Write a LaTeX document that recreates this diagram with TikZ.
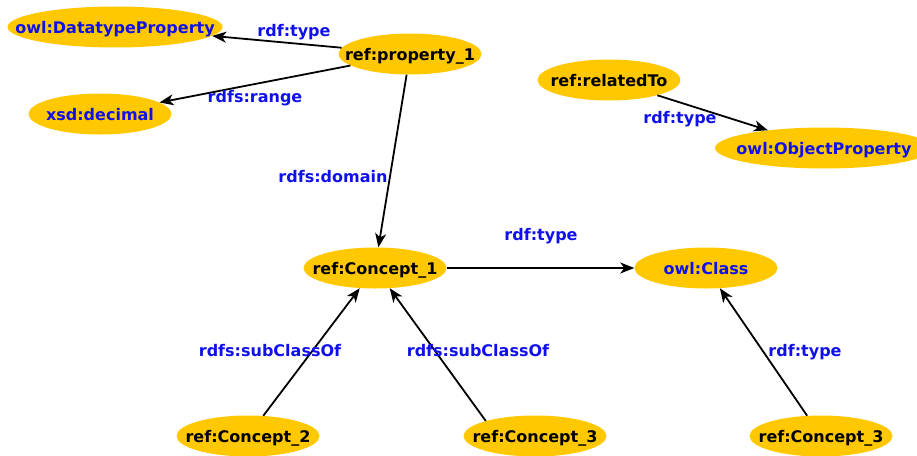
\documentclass[tikz,border=0pt]{standalone}
\usepackage{fontspec}
\setmainfont{DejaVu Sans}
\usetikzlibrary{shapes.geometric,arrows.meta}
\definecolor{gold}{RGB}{255,200,0}
\definecolor{lblue}{RGB}{16,16,235}
\begin{document}
\begin{tikzpicture}[>={Stealth[length=14pt,width=11pt,inset=4pt]},x=1pt,y=-1pt,
	res/.style={ellipse,fill=gold,inner xsep=-70pt,inner ysep=0pt,minimum width=143pt,minimum height=41pt,
		text height=12pt,text depth=0pt,font=\fontsize{16}{19}\selectfont\bfseries},
	lit/.style={res,text=lblue},
	lbl/.style={anchor=base,text=lblue,inner sep=0pt,font=\fontsize{16}{19}\selectfont\bfseries},
	rel/.style={->,line width=1.8pt}]
		\useasboundingbox (0,0) rectangle (917,455);
		\clip (0,0) rectangle (917,455);
		% resources
		\node[lit,minimum width=215pt] (dtp) at (115,27) {owl:DatatypeProperty};
		\node[res] (prop) at (410,54) {ref:property\_1};
		\node[lit] (dec) at (100,114) {xsd:decimal};
		\node[res] (relto) at (609,80) {ref:relatedTo};
		\node[lit,minimum width=218pt] (objp) at (824,148) {owl:ObjectProperty};
		\node[res] (cone) at (375,268) {ref:Concept\_1};
		\node[lit] (cls) at (706,268) {owl:Class};
		\node[res] (ctwo) at (248,436) {ref:Concept\_2};
		\node[res] (cthree) at (535,436) {ref:Concept\_3};
		\node[res] (cthreeb) at (821,436) {ref:Concept\_3};
		% triples
		\draw[rel] (prop)--(dtp);
		\draw[rel] (prop)--(dec);
		\draw[rel] (prop)--(cone);
		\draw[rel] (relto)--(objp);
		\draw[rel] (cone)--(cls);
		\draw[rel] (ctwo)--(cone);
		\draw[rel] (cthree.163)--(cone);
		\draw[rel] (cthreeb)--(cls);
		% predicates
		\node[lbl] (ltype) at (294,36) {rdf:type};
		\node[lbl] (lrange) at (255,102) {rdfs:range};
		\node[lbl] (ldomain) at (333,182) {rdfs:domain};
		\node[lbl] (ltypeb) at (680,123) {rdf:type};
		\node[lbl] (ltypec) at (541,240) {rdf:type};
		\node[lbl] (lsubl) at (270,356) {rdfs:subClassOf};
		\node[lbl] (lsubr) at (478,356) {rdfs:subClassOf};
		\node[lbl] (ltyped) at (805,356) {rdf:type};
\end{tikzpicture}
\end{document}
